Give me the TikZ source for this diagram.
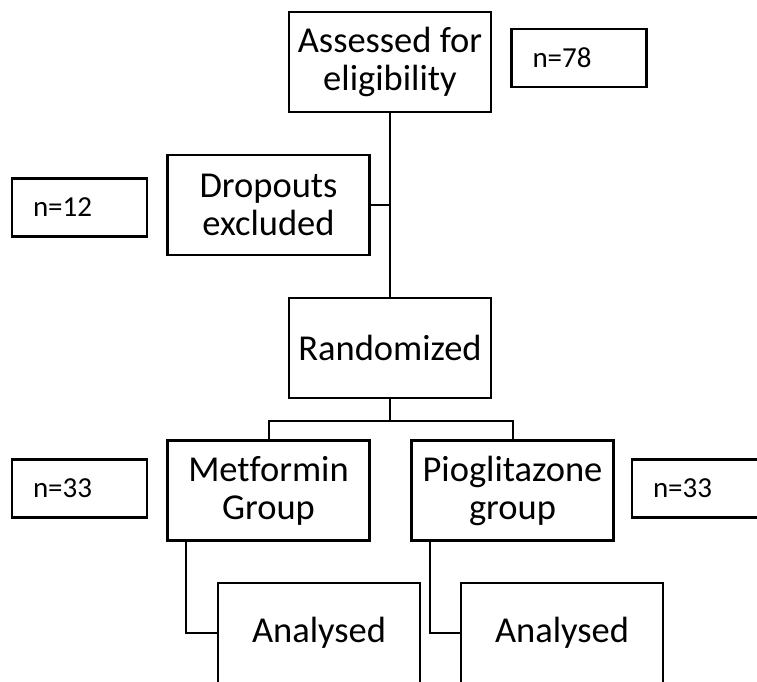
\documentclass[tikz,border=0pt]{standalone}
\usepackage{fontspec}
\setmainfont[Ligatures=NoCommon]{Carlito}
\begin{document}
\begin{tikzpicture}[x=1pt,y=-1pt,
	box/.style={draw,line width=2.2pt,minimum width=202pt,minimum height=100pt,align=center,inner sep=0pt,font=\fontsize{36.5}{38}\selectfont},
	count/.style={draw,line width=2.2pt,minimum width=135pt,minimum height=58pt,text width=93pt,align=left,inner xsep=21pt,inner ysep=0pt,font=\fontsize{29}{30}\selectfont},
	link/.style={line width=2pt}]
	\useasboundingbox (0,0) rectangle (757,681);
	\clip (0,0) rectangle (757,681);
	% boxes
	\node [box] (assess) at (390,62) {Assessed for\\eligibility};
	\node [count] (n78) at (579,58) {n=78};
	\node [box] (drop) at (268.5,205) {Dropouts\\excluded};
	\node [count] (n12) at (79.5,207.5) {n=12};
	\node [box] (rand) at (390,348) {Randomized};
	\node [box] (metf) at (268.5,490.5) {Metformin\\Group};
	\node [box] (pio) at (512.5,490.5) {Pioglitazone\\group};
	\node [count] (n33a) at (79.5,488.5) {n=33};
	\node [count] (n33b) at (699.5,488.5) {n=33};
	\node [box] (an1) at (319,633) {Analysed};
	\node [box] (an2) at (562,633) {Analysed};
	% links
	\draw [link] (assess.south) -- (rand.north);
	\draw [link] (drop.east) -- (drop.east -| assess.south);
	\draw [link] (rand.south) -- ++(0,22) -| (metf.north);
	\draw [link] (rand.south) -- ++(0,22) -| (pio.north);
	\draw [link] ([xshift=20pt]metf.south west) |- (an1.west);
	\draw [link] ([xshift=20pt]pio.south west) |- (an2.west);
\end{tikzpicture}
\end{document}
